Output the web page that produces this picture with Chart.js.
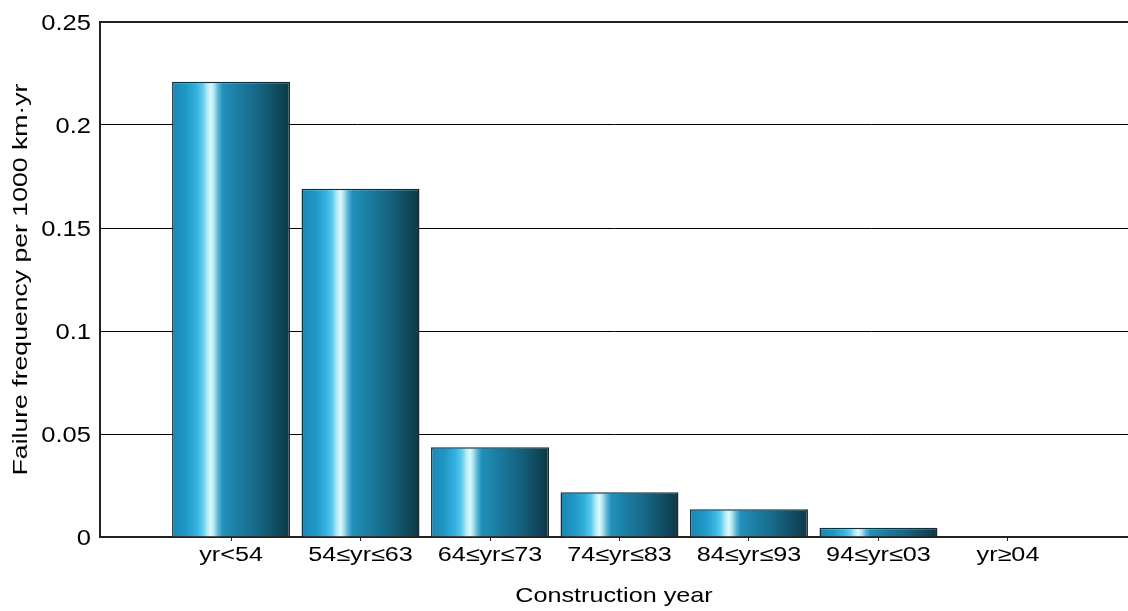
<!DOCTYPE html>
<html>
<head>
<meta charset="utf-8">
<script src="https://cdn.jsdelivr.net/npm/chart.js@4/dist/chart.umd.min.js"></script>
<style>
  html, body { margin: 0; padding: 0; background: #fff; overflow: hidden; }
  #wrap { width: 1128px; height: 611px; }
</style>
</head>
<body>
<div id="wrap"><canvas id="chart" width="1128" height="611"></canvas></div>
<script>
// Pipeline failure frequency by construction period
const categories = ['yr<54', '54≤yr≤63', '64≤yr≤73', '74≤yr≤83', '84≤yr≤93', '94≤yr≤03', 'yr≥04'];
const failureFreq = [0.221, 0.169, 0.0436, 0.0217, 0.0135, 0.0045, 0];
const yTickValues = [0, 0.05, 0.1, 0.15, 0.2, 0.25];
const yTickLabels = ['0', '0.05', '0.1', '0.15', '0.2', '0.25'];
const xTitle = 'Construction year';
const yTitle = 'Failure frequency per 1000 km·yr';

const BAR_FRACTION = 0.911;
const FONT_FAMILY = '"Liberation Sans", Arial, sans-serif';

// cylindrical shading across each bar
const shadeStops = [
  [0.00, '#1b86b3'], [0.12, '#1f98c6'], [0.21, '#37b3e0'], [0.26, '#5ccbef'],
  [0.30, '#b2ecf9'], [0.33, '#dcf8fd'], [0.36, '#a9dfeb'], [0.39, '#5db6d4'],
  [0.43, '#2190ba'], [0.55, '#1b7ea3'], [0.70, '#176a8b'], [0.85, '#115168'],
  [1.00, '#0c3746']
];

function barShade(c) {
  const chart = c.chart;
  const xs = chart.scales && chart.scales.x;
  if (!chart.chartArea || !xs || c.dataIndex === undefined) return '#1b7ea3';
  const center = xs.getPixelForValue(c.dataIndex);
  const half = (xs.getPixelForValue(1) - xs.getPixelForValue(0)) * BAR_FRACTION / 2;
  const g = chart.ctx.createLinearGradient(center - half, 0, center + half, 0);
  shadeStops.forEach(([p, col]) => g.addColorStop(p, col));
  return g;
}

// wide-set text, stretched along the reading direction
function stretchedText(ctx, text, x, y, size, sx, align, rotate) {
  ctx.save();
  ctx.translate(x, y);
  if (rotate) ctx.rotate(-Math.PI / 2);
  ctx.scale(sx, 1);
  ctx.font = size + 'px ' + FONT_FAMILY;
  ctx.fillStyle = '#000';
  ctx.textAlign = align;
  ctx.textBaseline = 'alphabetic';
  ctx.fillText(text, 0, 0);
  ctx.restore();
}

const axisText = {
  id: 'axisText',
  afterDraw(chart) {
    const ctx = chart.ctx;
    const xs = chart.scales.x, ys = chart.scales.y;
    const area = chart.chartArea;
    yTickValues.forEach((v, i) => {
      stretchedText(ctx, yTickLabels[i], ys.right - 9, ys.getPixelForValue(v) + 7.8, 22, 1.16, 'right', false);
    });
    categories.forEach((label, i) => {
      stretchedText(ctx, label, xs.getPixelForValue(i), xs.top + 24, 20, 1.26, 'center', false);
    });
    stretchedText(ctx, xTitle, (area.left + area.right) / 2, xs.top + 65, 21, 1.2, 'center', false);
    stretchedText(ctx, yTitle, 27, (area.top + area.bottom) / 2, 20, 1.33, 'center', true);
  }
};

new Chart(document.getElementById('chart'), {
  type: 'bar',
  data: {
    datasets: [{
      data: categories.map((c, i) => ({ x: i, y: failureFreq[i] })),
      backgroundColor: barShade,
      borderColor: '#1f2a2e',
      borderWidth: 1.5,
      borderSkipped: 'bottom',
      categoryPercentage: 1,
      barPercentage: BAR_FRACTION
    }]
  },
  options: {
    responsive: false,
    devicePixelRatio: 1,
    animation: false,
    layout: { padding: { top: 22, left: 0, right: 0, bottom: 0 } },
    plugins: { legend: { display: false }, tooltip: { enabled: false } },
    scales: {
      x: {
        type: 'linear',
        offset: false,
        min: -1.012,
        max: 6.927,
        afterFit(scale) { scale.height = 74; },
        ticks: { display: false, stepSize: 1, includeBounds: false },
        grid: {
          offset: false,
          drawOnChartArea: false,
          drawTicks: true,
          tickLength: 4,
          lineWidth: 1,
          color: (c) => (c.tick && Number.isInteger(c.tick.value) && c.tick.value >= 0) ? '#222' : 'rgba(0,0,0,0)'
        },
        border: { display: true, color: '#222', width: 2 }
      },
      y: {
        min: 0,
        max: 0.25,
        afterFit(scale) { scale.width = 100; },
        ticks: { display: false, stepSize: 0.05 },
        afterBuildTicks(scale) { scale.ticks = yTickValues.map(v => ({ value: v })); },
        grid: {
          drawTicks: false,
          color: (c) => (c.tick && c.tick.value >= 0.249) ? '#222' : '#000',
          lineWidth: (c) => (c.tick && c.tick.value >= 0.249) ? 2 : 1
        },
        border: { display: true, color: '#222', width: 2 }
      }
    }
  },
  plugins: [axisText]
});
</script>
</body>
</html>
